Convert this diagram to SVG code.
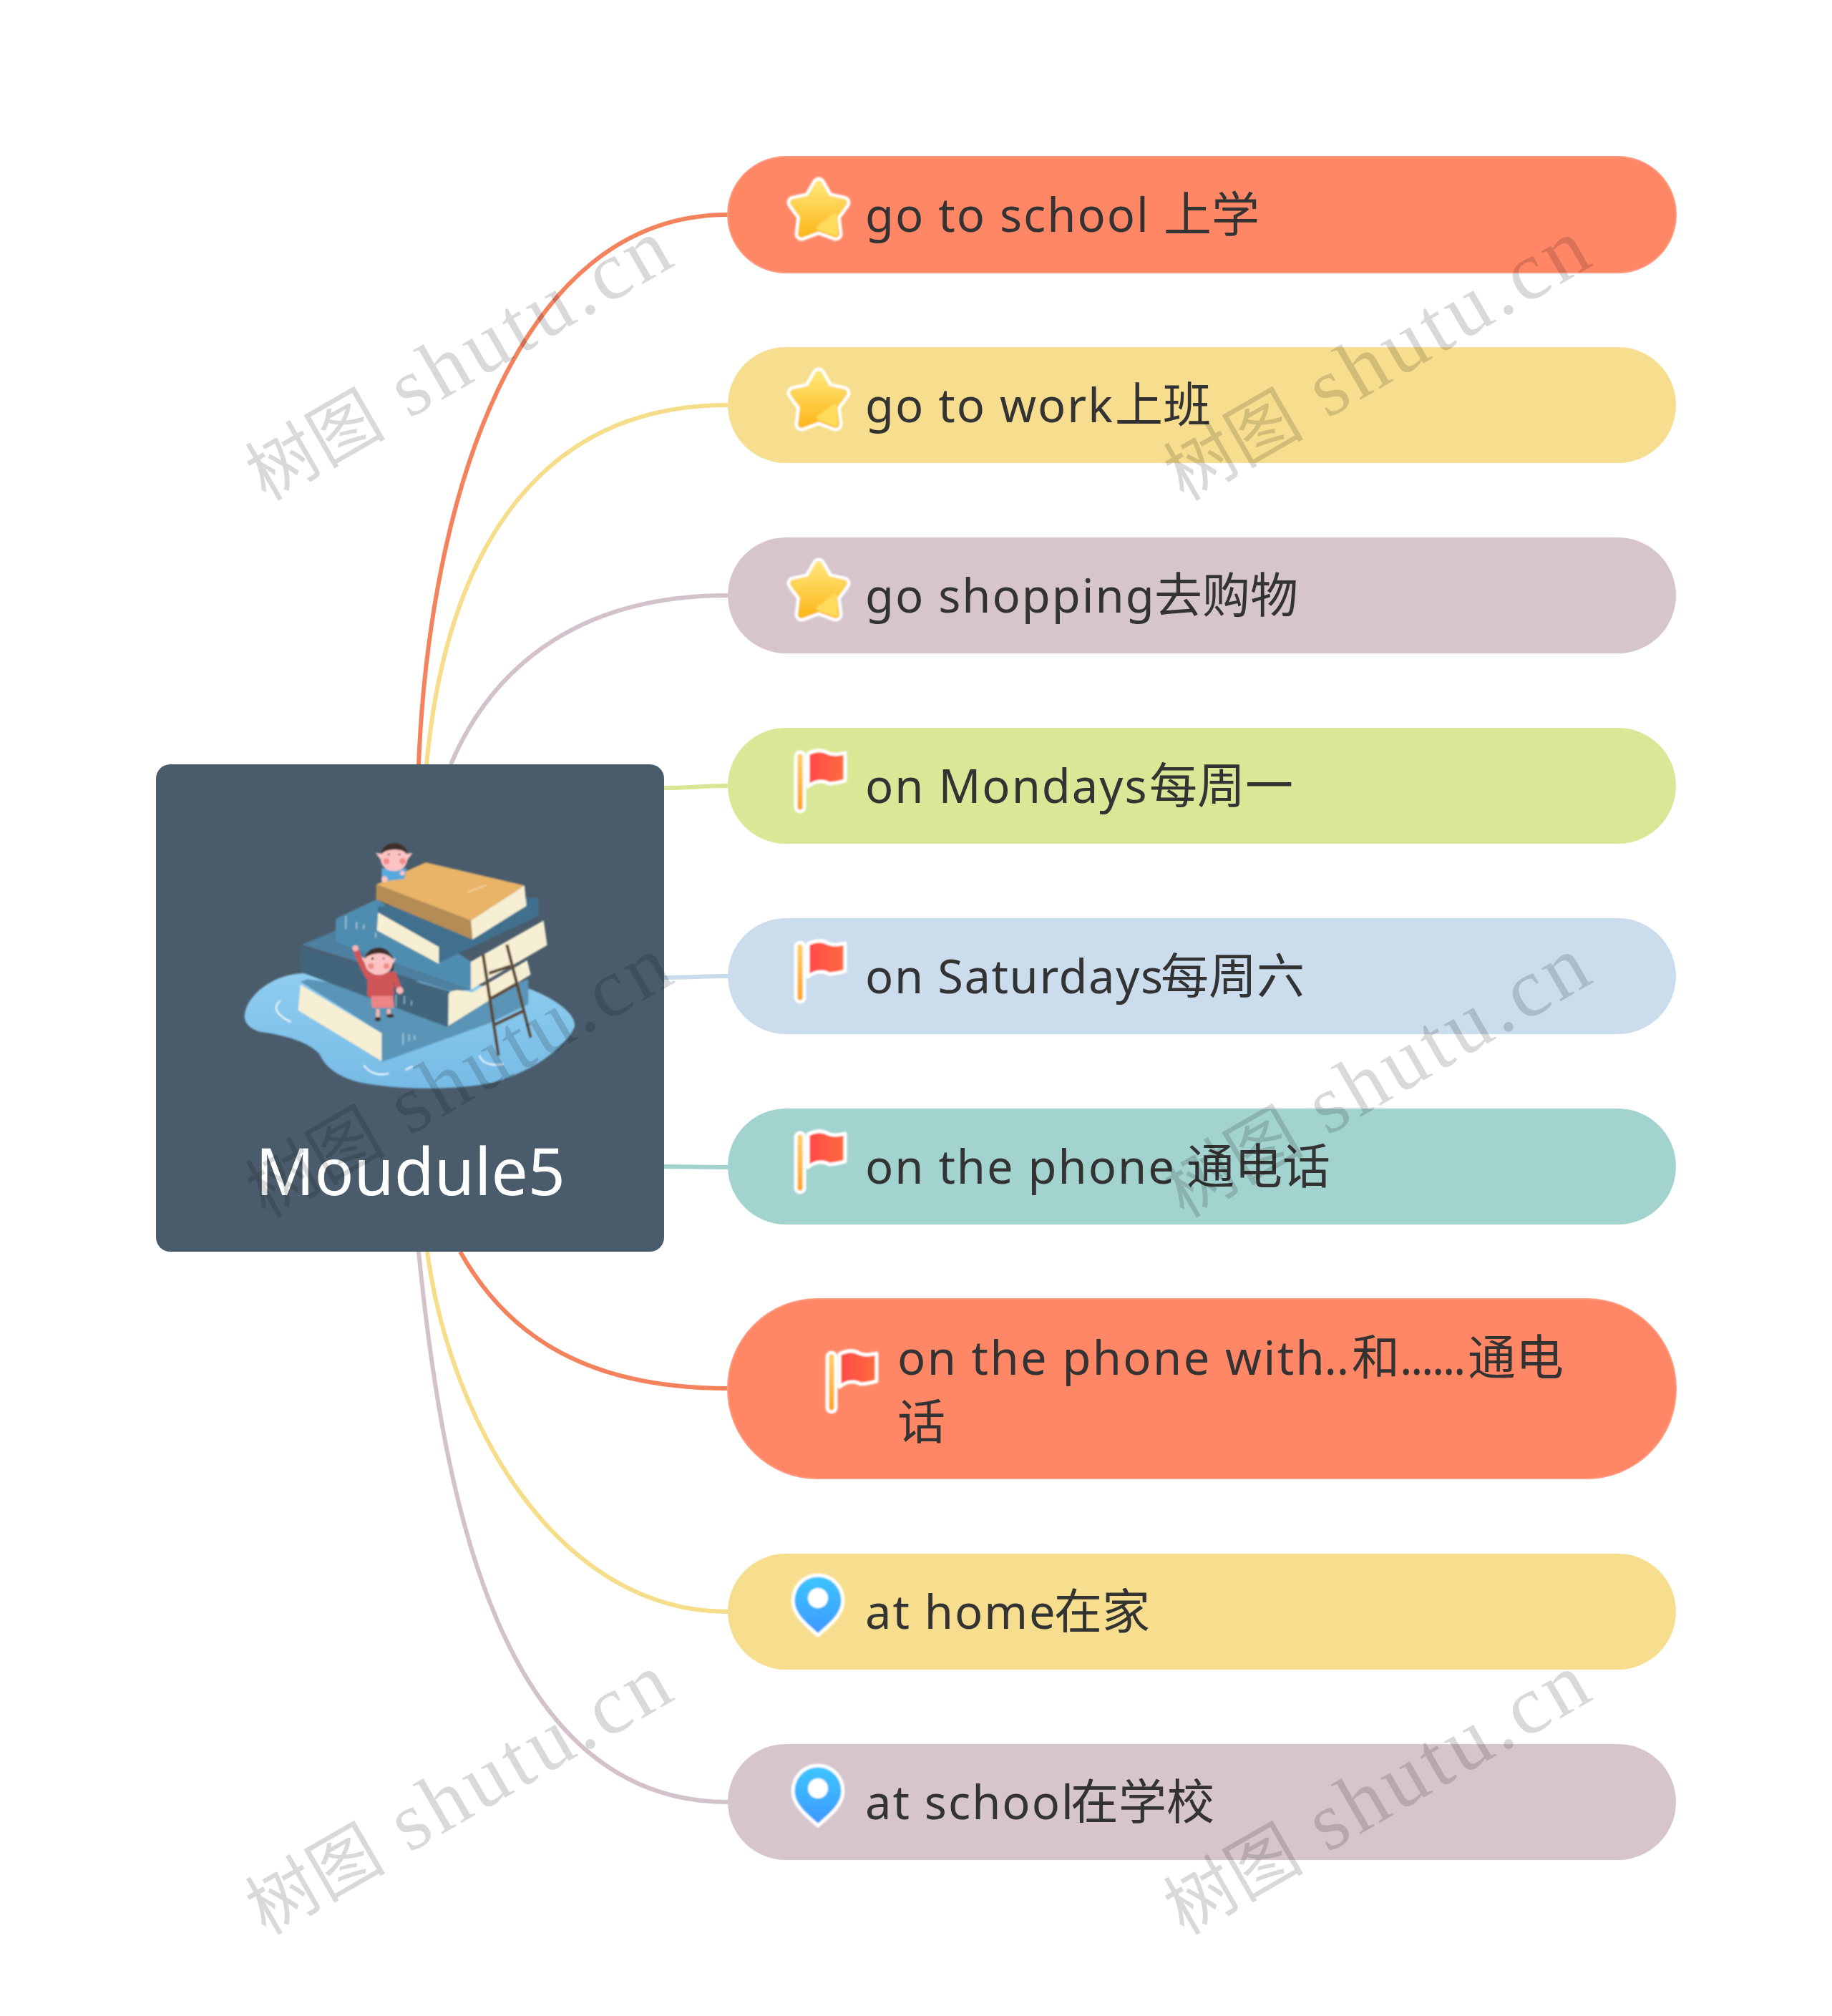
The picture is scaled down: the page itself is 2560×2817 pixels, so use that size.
<svg xmlns="http://www.w3.org/2000/svg" width="2560" height="2817" viewBox="0 0 2560 2817">
<style>
.c{fill:none;stroke-width:6;stroke-linecap:butt}
.t{font-family:"Noto Sans","Noto Sans CJK SC",sans-serif;font-size:65px;fill:#333;letter-spacing:2px}
.z{font-family:"Noto Sans CJK SC","Noto Sans",sans-serif;font-size:67px;letter-spacing:0}
.r{font-family:"Noto Sans","Noto Sans CJK SC",sans-serif;font-size:91px;fill:#fff}
.w{font-family:"Liberation Serif","Noto Sans CJK SC",serif;font-size:116px;letter-spacing:6px;fill:#000;fill-opacity:.15}
.wz{font-family:"Noto Sans CJK SC",serif;font-size:98px;letter-spacing:0}
.o{fill:#FF8766;stroke:#FF9A7E;stroke-width:2}.y{fill:#F7DE8E}.m{fill:#D7C5CE}.g{fill:#D9E896}.b{fill:#CBDCEC}.e{fill:#A3D3CF}
</style>
<defs>
<filter id="soft" x="-5%" y="-5%" width="110%" height="110%"><feGaussianBlur stdDeviation="2.4"/></filter>
<filter id="glow" x="-20%" y="-20%" width="140%" height="140%"><feGaussianBlur stdDeviation=".8"/></filter>
<linearGradient id="gs" x1="0" y1="0" x2="0" y2="1"><stop offset="0" stop-color="#FFE577"/><stop offset="1" stop-color="#FDB81E"/></linearGradient>
<linearGradient id="gf" x1="0" y1="0" x2="1" y2="0"><stop offset="0" stop-color="#FF4848"/><stop offset="1" stop-color="#FF6C3E"/></linearGradient>
<linearGradient id="gp" x1="0" y1="0" x2="0" y2="1"><stop offset="0" stop-color="#FFD06A"/><stop offset="1" stop-color="#FFA022"/></linearGradient>
<linearGradient id="gn" x1="0" y1="0" x2="0" y2="1"><stop offset="0" stop-color="#3CC6FF"/><stop offset="1" stop-color="#3F98FF"/></linearGradient>
<linearGradient id="gw" x1="0" y1="0" x2="0" y2="1"><stop offset="0" stop-color="#8FCDEF"/><stop offset="1" stop-color="#76BBE5"/></linearGradient>
<g id="star" filter="url(#glow)">
<path d="M0-36 12-15 35-10 21 9 24 34 0 25-24 34-21 9-35-10-12-15Z" fill="#fff" stroke="#fff" stroke-width="19" stroke-linejoin="round"/>
<path d="M0-36 12-15 35-10 21 9 24 34 0 25-24 34-21 9-35-10-12-15Z" fill="url(#gs)" stroke="url(#gs)" stroke-width="10" stroke-linejoin="round"/>
<path d="M22 8 24 34 0 25Z" fill="#FFDB5C" stroke="#FFDB5C" stroke-width="6" stroke-linejoin="round"/>
</g>
<g id="flag" filter="url(#glow)">
<rect x="3" y="34" width="12" height="83" rx="6" fill="url(#gp)" stroke="#fff" stroke-width="5"/>
<path d="M20 36C30 31 40 30 48 35 55 38 62 37 72 35V74C62 77 55 78 49 78 42 73 30 74 20 82Z" fill="url(#gf)" stroke="#fff" stroke-width="5" stroke-linejoin="round"/>
</g>
<g id="pin" filter="url(#glow)">
<path d="M0-36C20-36 35-20 35 0 35 20 15 35 0 48-15 35-35 20-35 0-35-20-20-36 0-36Z" fill="url(#gn)" stroke="#fff" stroke-width="5"/>
<circle cx="0" cy="-4" r="14" fill="#fff"/>
</g>
</defs>
<rect width="2560" height="2817" fill="#fff"/>
<g id="connectors">
<path class="c" stroke="#F4825C" d="M585 1068C600 700 720 300 1017 300"/>
<path class="c" stroke="#F6DD8A" d="M596 1068C625 760 760 566 1017 566"/>
<path class="c" stroke="#D3C2CB" d="M630 1068C680 950 790 832 1017 832"/>
<path class="c" stroke="#D8E794" d="M925 1101C960 1101 985 1098 1017 1098"/>
<path class="c" stroke="#C9DBEB" d="M925 1366C960 1366 985 1364 1017 1364"/>
<path class="c" stroke="#A2D2CC" d="M925 1630C960 1630 985 1631 1017 1631"/>
<path class="c" stroke="#F4825C" d="M643 1749C700 1850 800 1940 1017 1940"/>
<path class="c" stroke="#F6DD8A" d="M597 1749C630 1990 780 2252 1017 2252"/>
<path class="c" stroke="#D3C2CB" d="M585 1749C620 2100 700 2518 1017 2518"/>
</g>
<g id="root">
<rect x="218" y="1068" width="710" height="681" rx="20" fill="#4A5C6B"/>
<g transform="translate(320 1300) scale(.3333)" filter="url(#soft)">
<path d="M65 360C70 280 170 190 300 180L1260 245C1350 280 1450 340 1450 400 1430 470 1290 590 1100 640 950 670 720 670 560 640 460 620 400 570 380 520 340 470 240 440 130 425 90 415 65 390 65 360Z" fill="url(#gw)"/>
<path d="M215 295C185 320 190 350 260 385M565 565C590 600 630 610 670 600M740 585 770 570M1050 525C1060 560 1110 570 1150 560" fill="none" stroke="#E6F4FB" stroke-width="7"/>
<path d="M300 215 330 205 1000 300 1255 205V310L1090 390 640 552 640 430Z" fill="#5A94B6"/>
<path d="M300 228 640 432V548L290 335Z" fill="#F7EFD3"/>
<path d="M730 430V480M755 435V465M778 440V460" stroke="#A9CBDC" stroke-width="5"/>
<path d="M305 60 450 0 1020 250 930 255Z" fill="#4D7F9E"/>
<path d="M300 70 925 255 915 405 300 175C295 140 296 100 300 70Z" fill="#42657C"/>
<path d="M920 270C930 250 950 245 1020 260L1250 125 1265 185 920 400Z" fill="#F7EFD3"/>
<path d="M450-50 620-130 1014 131 1014 248 450 50C445 15 446-20 450-50Z" fill="#4F8DB0"/>
<path d="M1014 131 1319-41 1334 62 1014 248Z" fill="#F7EFD3"/>
<path d="M700 270V320M735 275V310M765 295V315" stroke="#8FB5C9" stroke-width="5"/>
<path d="M490-60V-5M535-35V-5M565-25V-5M615 10V30" stroke="#A9CBDC" stroke-width="5"/>
<path d="M625-100 1298-137V-61L876 138 620 0Z" fill="#3F6F8E"/>
<path d="M625-75 880 70V140L620 0Z" fill="#F7EFD3"/>
<path d="M617-192 825-285 1239-188 1014-41Z" fill="#E9B367"/>
<path d="M617-192 1014-41 1021 38 617-130Z" fill="#B58C55"/>
<path d="M1014-41 1239-188 1247-103 1021 38Z" fill="#F7EFD3"/>
<path d="M1000-160 1080-190" stroke="#F6D8A7" stroke-width="5"/>
<path d="M1065 100 1130 525M1165 60 1265 450M1090 180 1180 150M1100 285 1205 225M1115 395 1230 340" stroke="#5A4736" stroke-width="13" fill="none"/>
<path d="M530 75C545 120 570 170 585 195L690 185 715 250" stroke="#CF5457" stroke-width="24" fill="none"/>
<rect x="580" y="180" width="110" height="100" rx="12" fill="#CF5457"/>
<path d="M595 275H688L692 325H600Z" fill="#EE8585"/>
<path d="M624 330V365M670 330V352" stroke="#F4B6B0" stroke-width="15"/>
<ellipse cx="624" cy="372" rx="12" ry="9" fill="#3C302A"/><ellipse cx="676" cy="358" rx="15" ry="8" fill="#3C302A"/>
<path d="M680 100C695 130 695 165 680 175L640 120Z" fill="#3F2E2A"/>
<circle cx="530" cy="75" r="13" fill="#F7B5B5"/><circle cx="716" cy="252" r="15" fill="#F7B5B5"/>
<ellipse cx="628" cy="135" rx="58" ry="52" fill="#FBC3C3"/>
<path d="M555 112 585 122 575 150ZM700 118 670 122 680 150Z" fill="#FBC3C3"/>
<path d="M570 115C580 60 670 55 682 115 650 90 610 90 570 115Z" fill="#3F2E2A"/>
<circle cx="595" cy="150" r="13" fill="#F28C8C"/><circle cx="660" cy="150" r="13" fill="#F28C8C"/>
<circle cx="602" cy="118" r="5" fill="#334"/><circle cx="648" cy="118" r="5" fill="#8895AA"/>
<path d="M640-260H745L735-215 640-205Z" fill="#57A9DC"/>
<ellipse cx="692" cy="-298" rx="56" ry="50" fill="#FBC3C3"/>
<path d="M615-325 650-320 640-290ZM770-325 735-320 745-290Z" fill="#FBC3C3"/>
<path d="M636-320C650-380 735-380 752-320 720-345 670-345 636-320Z" fill="#3F2E2A"/>
<circle cx="660" cy="-290" r="13" fill="#F28C8C"/><circle cx="728" cy="-290" r="13" fill="#F28C8C"/>
<circle cx="670" cy="-318" r="4" fill="#334"/><circle cx="714" cy="-318" r="4" fill="#334"/>
<circle cx="652" cy="-214" r="13" fill="#FBC3C3"/><circle cx="727" cy="-240" r="10" fill="#FBC3C3"/>
</g>
<text class="r" x="357" y="1670">Moudule5</text>
</g>
<g id="n1"><rect class="o" x="1017" y="219" width="1325" height="162" rx="81"/><use href="#star" x="1144" y="293"/><text class="t" x="1209" y="324">go to school <tspan class="z" x="1626">上学</tspan></text></g>
<g id="n2"><rect class="y" x="1017" y="485" width="1325" height="162" rx="81"/><use href="#star" x="1144" y="559"/><text class="t" x="1209" y="590">go to work<tspan class="z" x="1558">上班</tspan></text></g>
<g id="n3"><rect class="m" x="1017" y="751" width="1325" height="162" rx="81"/><use href="#star" x="1144" y="825"/><text class="t" x="1209" y="856">go shopping<tspan class="z" x="1613">去购物</tspan></text></g>
<g id="n4"><rect class="g" x="1017" y="1017" width="1325" height="162" rx="81"/><use href="#flag" x="1109" y="1017"/><text class="t" x="1209" y="1122">on Mondays<tspan class="z" x="1606">每周一</tspan></text></g>
<g id="n5"><rect class="b" x="1017" y="1283" width="1325" height="162" rx="81"/><use href="#flag" x="1109" y="1283"/><text class="t" x="1209" y="1388" style="letter-spacing:1.6px">on Saturdays<tspan class="z" x="1622">每周六</tspan></text></g>
<g id="n6"><rect class="e" x="1017" y="1549" width="1325" height="162" rx="81"/><use href="#flag" x="1109" y="1549"/><text class="t" x="1209" y="1654">on the phone <tspan class="z" x="1658">通电话</tspan></text></g>
<g id="n7"><rect class="o" x="1017" y="1815" width="1325" height="251" rx="125"/><use href="#flag" x="1153" y="1856"/><text class="t" x="1254" y="1921" style="letter-spacing:2.4px">on the phone with<tspan x="1833" style="letter-spacing:0">...</tspan><tspan class="z" x="1889">和</tspan><tspan x="1956" style="letter-spacing:-2.4px">......</tspan><tspan class="z" x="2051">通电</tspan><tspan class="z" x="1254" dy="90">话</tspan></text></g>
<g id="n8"><rect class="y" x="1017" y="2171" width="1325" height="162" rx="81"/><use href="#pin" x="1143" y="2237"/><text class="t" x="1209" y="2276">at home<tspan class="z" x="1473">在家</tspan></text></g>
<g id="n9"><rect class="m" x="1017" y="2437" width="1325" height="162" rx="81"/><use href="#pin" x="1143" y="2503"/><text class="t" x="1209" y="2542">at school<tspan class="z" x="1496">在学校</tspan></text></g>
<g id="watermarks">
<text class="w" transform="translate(380 696) rotate(-30)"><tspan class="wz" x="-10">树图</tspan><tspan x="221">shutu.cn</tspan></text>
<text class="w" transform="translate(1663 696) rotate(-30)"><tspan class="wz" x="-10">树图</tspan><tspan x="221">shutu.cn</tspan></text>
<text class="w" transform="translate(380 1698) rotate(-30)"><tspan class="wz" x="-10">树图</tspan><tspan x="221">shutu.cn</tspan></text>
<text class="w" transform="translate(1663 1698) rotate(-30)"><tspan class="wz" x="-10">树图</tspan><tspan x="221">shutu.cn</tspan></text>
<text class="w" transform="translate(380 2700) rotate(-30)"><tspan class="wz" x="-10">树图</tspan><tspan x="221">shutu.cn</tspan></text>
<text class="w" transform="translate(1663 2700) rotate(-30)"><tspan class="wz" x="-10">树图</tspan><tspan x="221">shutu.cn</tspan></text>
</g>
</svg>
